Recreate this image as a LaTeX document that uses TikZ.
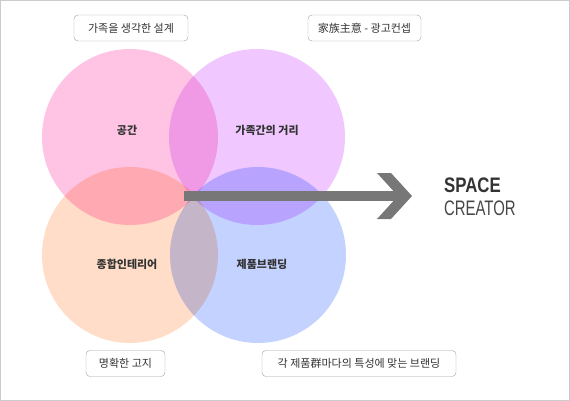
\documentclass[tikz,border=0pt]{standalone}
\usepackage{fontspec}
\setmainfont{Noto Sans CJK KR}
\newfontfamily\latinfont{Liberation Sans}
\usetikzlibrary{backgrounds}
\usetikzlibrary{positioning}
\definecolor{cpink}{RGB}{255,196,228}
\definecolor{cviolet}{RGB}{240,200,255}
\definecolor{cpeach}{RGB}{255,221,200}
\definecolor{cblue}{RGB}{196,210,255}
\definecolor{arrowgray}{RGB}{119,119,119}
\definecolor{boxgray}{RGB}{160,160,160}
\definecolor{framegray}{RGB}{204,204,204}
\definecolor{textgray}{RGB}{51,51,51}

\begin{document}
\begin{tikzpicture}[x=1pt,y=-1pt,
    tagbox/.style={draw=boxgray, rounded corners=4pt, fill=white, minimum height=26pt,
        inner sep=0pt, font=\fontsize{11}{13}\selectfont, text=textgray},
    ringlabel/.style={font=\bfseries\fontsize{11}{13}\selectfont, text=textgray},
    ring/.style={circle, minimum size=176pt, inner sep=0pt}]

\useasboundingbox (0,0) rectangle (570,401);
\draw[framegray] (0.5,0.5) rectangle (569.5,400.5);

% four circles
\begin{scope}[blend mode=multiply]
\node[ring, fill=cpink]   (space)  at (130,137) {};
\node[ring, fill=cviolet] (dist)   at (257,137) {};
\node[ring, fill=cpeach]  (inter)  at (130,255) {};
\node[ring, fill=cblue]   (brand)  at (258,255) {};
\end{scope}

\node[ringlabel] (lspace) at (127,130) {공간};
\node[ringlabel] (ldist)  at (267,130) {가족간의 거리};
\node[ringlabel] (linter) at (127,264) {종합인테리어};
\node[ringlabel] (lbrand) at (262,264) {제품브랜딩};

% tags
\node[tagbox, minimum width=114pt] (tdesign)  at (131,28)    {가족을 생각한 설계};
\node[tagbox, minimum width=113pt] (tconcept) at (364.5,28)  {家族主意 - 광고컨셉};
\node[tagbox, minimum width=79pt]  (tnotice)  at (125.5,363.5) {명확한 고지};
\node[tagbox, minimum width=194pt] (tbrand)   at (359,363.5) {각 제품群마다의 특성에 맞는 브랜딩};

% arrow
\coordinate (arrS) at (184,196);
\coordinate (arrE) at (403,196);
\draw[line width=10pt, arrowgray] (arrS) -- (arrE);
\fill[arrowgray] ([shift={(-26,-23)}]arrE) -- ([shift={(-12,-23)}]arrE)
    -- ([shift={(9,0)}]arrE) -- ([shift={(-12,23)}]arrE)
    -- ([shift={(-26,23)}]arrE) -- ([shift={(-5,0)}]arrE) -- cycle;

% title
\node[anchor=base west, inner sep=0pt, xscale=0.8, text=textgray,
    font=\latinfont\bfseries\fontsize{21}{21}\selectfont] (tspace) at (444,192) {SPACE};
\node[anchor=base west, inner sep=0pt, xscale=0.71, text=textgray!90,
    font=\latinfont\fontsize{21}{21}\selectfont] (tcreator) at (444,215) {CREATOR};

\end{tikzpicture}
\end{document}
